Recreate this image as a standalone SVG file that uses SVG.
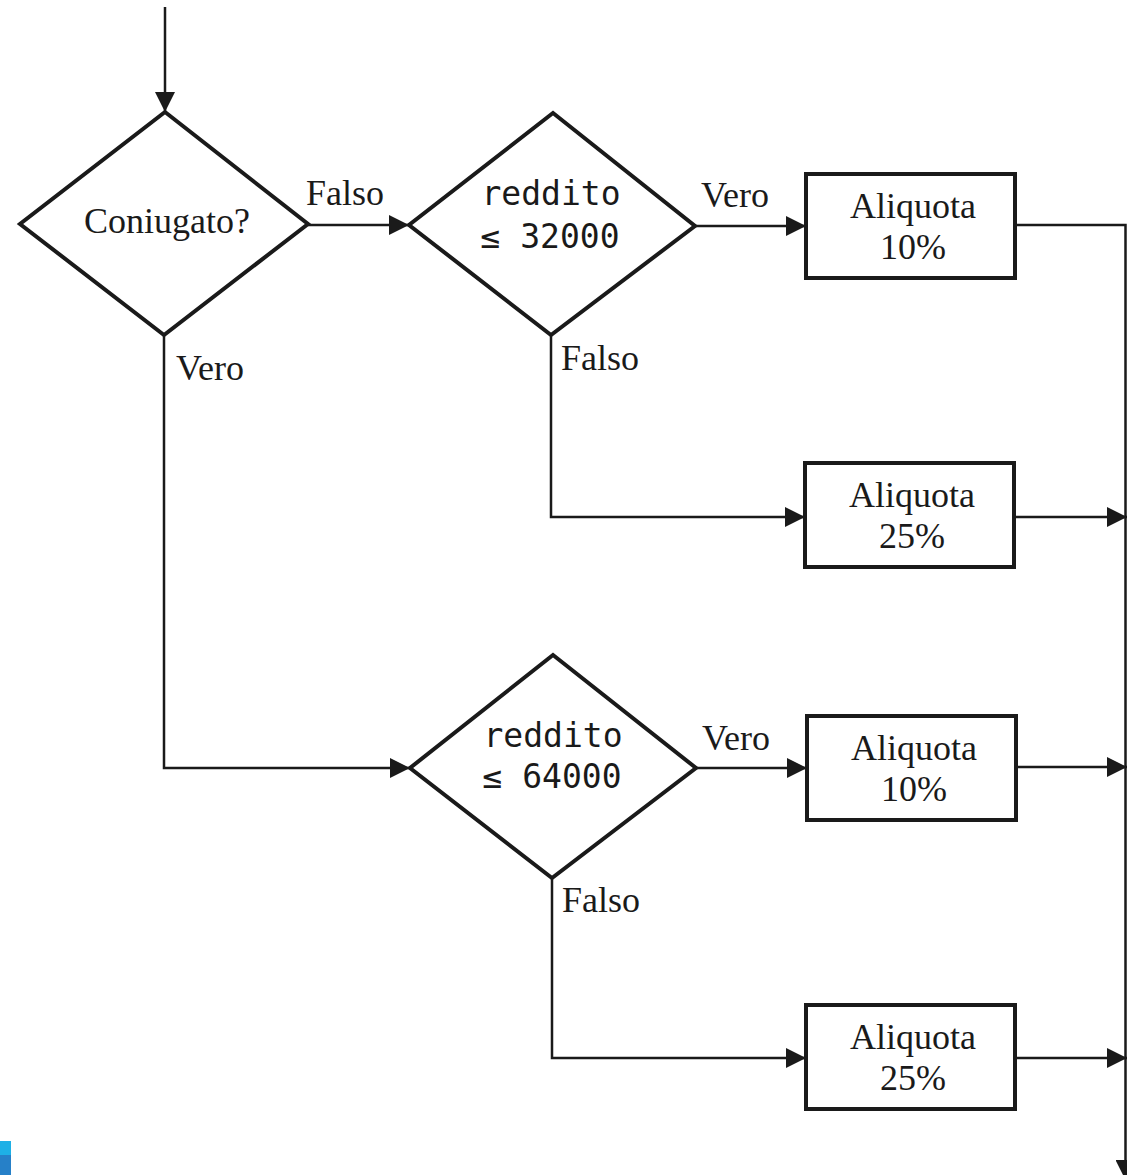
<svg xmlns="http://www.w3.org/2000/svg" width="1127" height="1175" viewBox="0 0 1127 1175">
<style>
.shape{fill:#fff;stroke:#1a1a1a;stroke-width:4;stroke-linejoin:miter}
.ln{fill:none;stroke:#1a1a1a;stroke-width:2.5}
.lbl{font-family:"Liberation Serif",serif;font-size:36px;fill:#1a1a1a}
.ctr{text-anchor:middle}
.mono{font-family:"DejaVu Sans Mono","Liberation Mono",monospace;font-size:33px;fill:#1a1a1a;text-anchor:middle}
</style>
<defs>
<marker id="ah" viewBox="0 0 20 20" refX="20" refY="10" markerWidth="20" markerHeight="20" markerUnits="userSpaceOnUse" orient="auto">
<path d="M0,0 L20,10 L0,20 Z" fill="#1a1a1a"/>
</marker>
</defs>
<rect x="0" y="1141" width="11" height="14" fill="#1EB0E6"/>
<rect x="0" y="1155" width="11" height="20" fill="#2680C8"/>
<g id="connectors">
<line class="ln" x1="165" y1="7" x2="165" y2="112" marker-end="url(#ah)"/>
<line class="ln" x1="308" y1="225" x2="409" y2="225" marker-end="url(#ah)"/>
<line class="ln" x1="695" y1="226" x2="806" y2="226" marker-end="url(#ah)"/>
<polyline class="ln" points="551,335 551,517 805,517" marker-end="url(#ah)"/>
<polyline class="ln" points="164,335 164,768 410,768" marker-end="url(#ah)"/>
<line class="ln" x1="696" y1="768" x2="807" y2="768" marker-end="url(#ah)"/>
<polyline class="ln" points="552,878 552,1058 806,1058" marker-end="url(#ah)"/>
<polyline class="ln" points="1015,225 1125.5,225 1125.5,1180" marker-end="url(#ah)"/>
<line class="ln" x1="1014" y1="517" x2="1127" y2="517" marker-end="url(#ah)"/>
<line class="ln" x1="1016" y1="767" x2="1127" y2="767" marker-end="url(#ah)"/>
<line class="ln" x1="1015" y1="1058" x2="1127" y2="1058" marker-end="url(#ah)"/>
<text class="lbl" x="306" y="205">Falso</text>
<text class="lbl" x="701" y="207">Vero</text>
<text class="lbl" x="561" y="370">Falso</text>
<text class="lbl" x="176" y="380">Vero</text>
<text class="lbl" x="702" y="750">Vero</text>
<text class="lbl" x="562" y="912">Falso</text>
</g>
<g id="d1">
<polygon class="shape" points="165,112 308,224 164,335 20,224"/>
<text class="lbl ctr" x="167" y="233">Coniugato?</text>
</g>
<g id="d2">
<polygon class="shape" points="553,113 695,226 551,335 409,225"/>
<text class="mono" x="551" y="205">reddito</text>
<text class="mono" x="550" y="248">≤ 32000</text>
</g>
<g id="d3">
<polygon class="shape" points="553,655 696,768 552,878 410,768"/>
<text class="mono" x="553" y="747">reddito</text>
<text class="mono" x="552" y="788">≤ 64000</text>
</g>
<g id="b1">
<rect class="shape" x="806" y="174" width="209" height="104"/>
<text class="lbl ctr" x="913" y="218">Aliquota</text>
<text class="lbl ctr" x="913" y="259">10%</text>
</g>
<g id="b2">
<rect class="shape" x="805" y="463" width="209" height="104"/>
<text class="lbl ctr" x="912" y="507">Aliquota</text>
<text class="lbl ctr" x="912" y="548">25%</text>
</g>
<g id="b3">
<rect class="shape" x="807" y="716" width="209" height="104"/>
<text class="lbl ctr" x="914" y="760">Aliquota</text>
<text class="lbl ctr" x="914" y="801">10%</text>
</g>
<g id="b4">
<rect class="shape" x="806" y="1005" width="209" height="104"/>
<text class="lbl ctr" x="913" y="1049">Aliquota</text>
<text class="lbl ctr" x="913" y="1090">25%</text>
</g>
</svg>
